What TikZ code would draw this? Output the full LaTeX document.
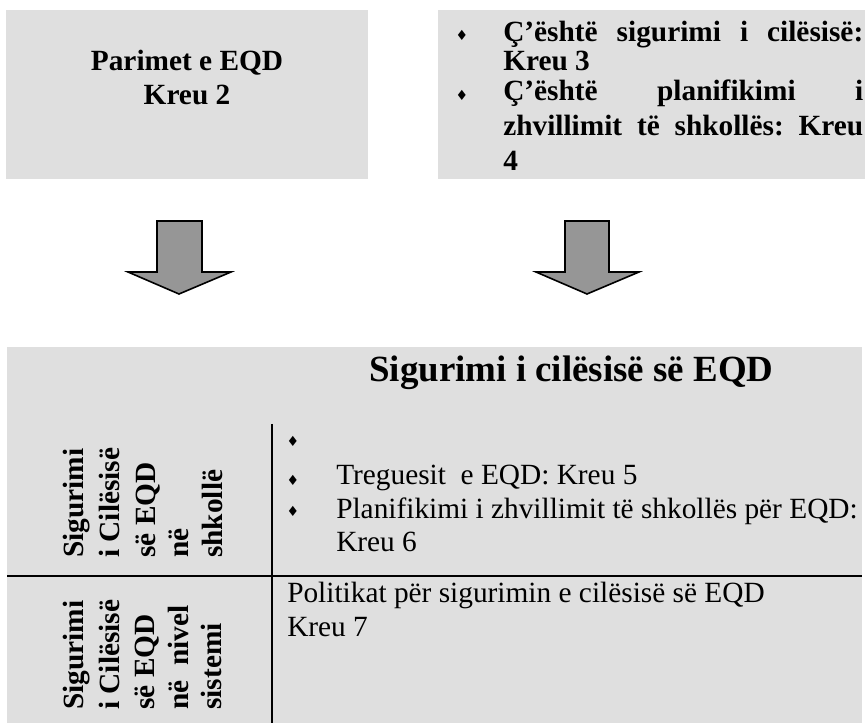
\documentclass[tikz,border=0pt]{standalone}
\usepackage{fontspec}
\setmainfont{Liberation Serif}
\newfontfamily\symfont{DejaVu Sans}
\definecolor{boxgray}{HTML}{DFDFDF}
\definecolor{arrowgray}{HTML}{969696}
\frenchspacing
\begin{document}
\begin{tikzpicture}[x=0.75pt,y=-0.75pt,
  box/.style={fill=boxgray, draw=none, inner sep=0pt, anchor=north west},
  boldtxt/.style={font=\fontsize{22}{26}\selectfont\bfseries, inner sep=0pt, anchor=base west},
  regtxt/.style={font=\fontsize{22}{26}\selectfont, inner sep=0pt, anchor=base west},
  titletxt/.style={font=\fontsize{27.7}{32}\selectfont\bfseries, inner sep=0pt, anchor=base west},
  verttxt/.style={boldtxt, rotate=90},
  bul/.style={font=\symfont\fontsize{10.5}{10.5}\selectfont, inner sep=0pt, anchor=center},
  bigarrow/.style={fill=arrowgray, draw=black, line width=1.2pt, line join=miter},
  tablerule/.style={line width=1.2pt}]
\useasboundingbox (0,0) rectangle (865,723);
\fill[white] (0,0) rectangle (865,723);

% boxes
\node[box, minimum width=271.5pt, minimum height=126.75pt] (b1) at (6,10) {};
\node[box, minimum width=320.25pt, minimum height=126.75pt] (b2) at (438,10) {};
\node[box, minimum width=641.25pt, minimum height=282pt] (b3) at (7,347) {};

% arrows
\draw[bigarrow] (157,221) -- (202,221) -- (202,272) -- (231,272) -- (179,294) -- (128,272) -- (157,272) -- cycle;
\draw[bigarrow] (565,221) -- (609,221) -- (609,272) -- (639,272) -- (587,294) -- (536,272) -- (565,272) -- cycle;

% box 1 text
\node[boldtxt, anchor=base] (p1) at (187,71) {Parimet e EQD};
\node[boldtxt, anchor=base] (p2) at (187,105) {Kreu 2};

% box 2 text
\node[bul] (q1b) at (462,35) {♦};
\node[boldtxt] (q1) at (503,42) {\makebox[270pt][s]{Ç’është sigurimi i cilësisë:}};
\node[boldtxt] (q2) at (503,71) {Kreu 3};
\node[bul] (q3b) at (462,95) {♦};
\node[boldtxt] (q3) at (503,101) {\makebox[270pt][s]{Ç’është planifikimi i}};
\node[boldtxt] (q4) at (503,136) {\makebox[270pt][s]{zhvillimit të shkollës: Kreu}};
\node[boldtxt] (q5) at (503,171) {4};

% title
\node[titletxt] (title) at (369,382) {Sigurimi i cilësisë së EQD};

% table rules
\coordinate (vt) at (272,424);
\coordinate (vb) at (272,723);
\coordinate (hl) at (7,576);
\coordinate (hr) at (862,576);
\draw[tablerule] (vt) -- (vb);
\draw[tablerule] (hl) -- (hr);

% left column, cell 1
\node[verttxt] (a1) at (83,558) {Sigurimi};
\node[verttxt] (a2) at (119,558) {i Cilësisë};
\node[verttxt] (a3) at (155,558) {së EQD};
\node[verttxt] (a4) at (188,558) {në};
\node[verttxt] (a5) at (222,558) {shkollë};

% left column, cell 2
\node[verttxt] (c1) at (83,710) {Sigurimi};
\node[verttxt] (c2) at (119,710) {i Cilësisë};
\node[verttxt] (c3) at (154,710) {së EQD};
\node[verttxt] (c4) at (188,710) {në\ \ nivel};
\node[verttxt] (c5) at (221,710) {sistemi};

% right cell 1
\node[bul] (r1b) at (293,441) {♦};
\node[bul] (r2b) at (293,480) {♦};
\node[regtxt] (r2) at (336,485) {Treguesit\ \ e EQD: Kreu 5};
\node[bul] (r3b) at (293,511) {♦};
\node[regtxt] (r3) at (336,519) {Planifikimi i zhvillimit të shkollës për EQD:};
\node[regtxt] (r4) at (336,552) {Kreu 6};

% right cell 2
\node[regtxt] (s1) at (287,603) {Politikat për sigurimin e cilësisë së EQD};
\node[regtxt] (s2) at (287,637) {Kreu 7};
\end{tikzpicture}
\end{document}
